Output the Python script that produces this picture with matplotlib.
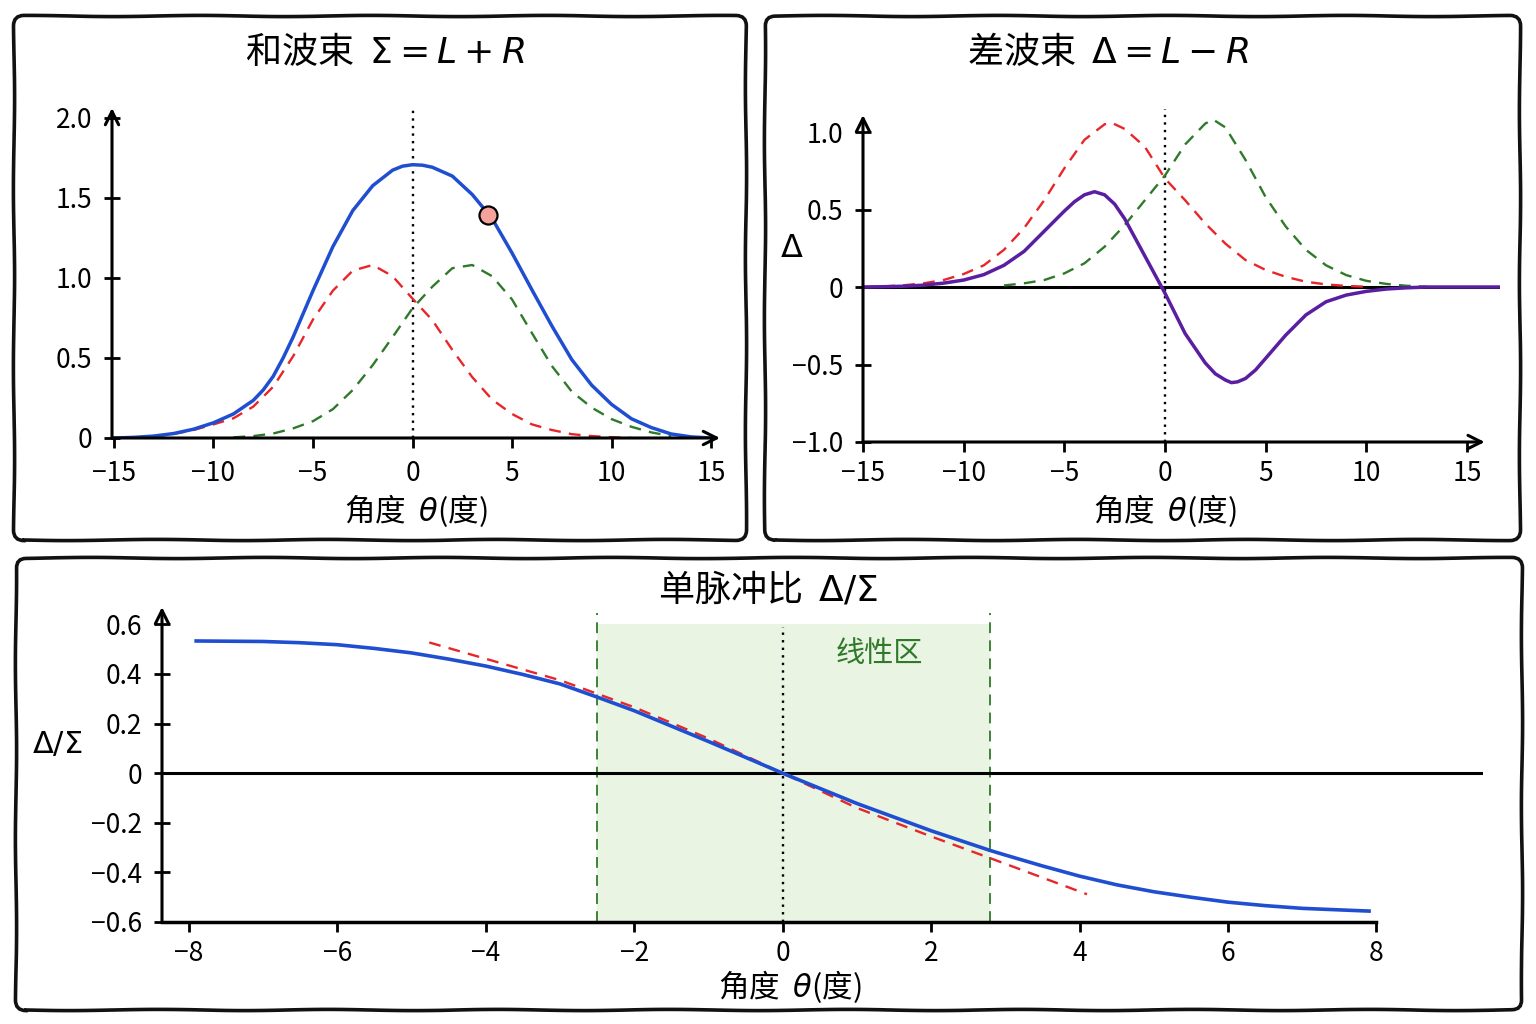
import numpy as np
import matplotlib.pyplot as plt
from matplotlib.patches import FancyBboxPatch

plt.rcParams['font.family'] = ['Noto Sans CJK SC', 'DejaVu Sans']
plt.rcParams['mathtext.fontset'] = 'dejavusans'

# ---- 数据 ----
# 和波束
theta_sum = [-15, -14, -13, -12, -11, -10, -9, -8, -7.5, -7, -6.5, -6, -5.5, -5, -4, -3, -2, -1, -0.5, 0,
             0.5, 1, 2, 3, 4, 5, 6, 7, 8, 9, 10, 11, 12, 13, 14, 15]
sum_beam = [0.0, 0.004, 0.012, 0.028, 0.055, 0.095, 0.15, 0.235, 0.30, 0.385, 0.5, 0.63, 0.775, 0.92, 1.195,
            1.42, 1.575, 1.672, 1.697, 1.706,
            1.703, 1.69, 1.635, 1.52, 1.37, 1.155, 0.925, 0.70, 0.49, 0.33, 0.21, 0.12, 0.065, 0.025, 0.007, 0.0]
theta_L1 = [-13, -12, -11, -10, -9, -8, -7, -6, -5, -4, -3, -2, -1, 0, 1, 2, 3, 4, 5, 6, 7, 8, 9, 10, 11]
L1 = [0.01, 0.025, 0.05, 0.085, 0.123, 0.196, 0.32, 0.51, 0.74, 0.92, 1.045, 1.08, 1.01, 0.87,
      0.735, 0.55, 0.38, 0.24, 0.15, 0.085, 0.05, 0.024, 0.012, 0.005, 0.0]
theta_R1 = [-9, -8, -7, -6, -5, -4, -3, -2, -1, 0, 1, 2, 3, 4, 5, 6, 7, 8, 9, 10, 11, 12, 13]
R1 = [0.004, 0.012, 0.028, 0.06, 0.105, 0.18, 0.30, 0.455, 0.63, 0.81, 0.945, 1.06, 1.08, 1.01,
      0.865, 0.655, 0.45, 0.29, 0.19, 0.118, 0.07, 0.035, 0.012]
dot_theta, dot_val = 3.81, 1.39

# 差波束
theta_diff = [-15, -14, -13, -12, -11, -10, -9, -8, -7, -6, -5, -4.5, -4, -3.5, -3, -2.5, -2, -1, 0,
              1, 2, 2.5, 3, 3.3, 3.6, 4, 4.5, 5, 6, 7, 8, 9, 10, 11, 12, 13, 14, 15, 16, 16.6]
diff_beam = [0.0, 0.002, 0.005, 0.012, 0.025, 0.045, 0.08, 0.14, 0.23, 0.36, 0.49, 0.55, 0.595, 0.615, 0.595,
             0.535, 0.44, 0.2, -0.04,
             -0.30, -0.49, -0.56, -0.6, -0.617, -0.612, -0.59, -0.535, -0.46, -0.31, -0.18, -0.095, -0.052,
             -0.028, -0.013, -0.005, 0.0, 0.0, 0.0, 0.0, 0.0]
theta_L2 = [-15, -14, -13, -12, -11, -10, -9, -8, -7, -6, -5, -4, -3, -2.65, -2, -1, 0,
            1, 2, 3, 4, 5, 6, 7, 8, 9, 10]
L2 = [0.0, 0.004, 0.011, 0.024, 0.045, 0.084, 0.14, 0.24, 0.38, 0.56, 0.766, 0.95, 1.05, 1.06, 1.02, 0.905, 0.70,
      0.56, 0.41, 0.28, 0.174, 0.11, 0.066, 0.034, 0.017, 0.007, 0.002]
theta_R2 = [-8, -7, -6, -5, -4, -3, -2, -1, 0, 1, 2, 2.4, 3, 4, 5, 6, 7, 8, 9, 10, 11, 12, 13]
R2 = [0.01, 0.024, 0.045, 0.088, 0.153, 0.26, 0.40, 0.56, 0.72, 0.92, 1.055, 1.08, 1.03, 0.82,
      0.58, 0.39, 0.24, 0.14, 0.077, 0.04, 0.02, 0.008, 0.002]

# 单脉冲比
theta_ratio = [-7.9, -7, -6.5, -6, -5.5, -5, -4.5, -4, -3.5, -3, -2.5, -2, -1, 0,
               1, 2, 2.8, 3, 3.5, 4, 4.5, 5, 5.5, 6, 6.5, 7, 7.9]
ratio = [0.533, 0.531, 0.526, 0.518, 0.503, 0.485, 0.46, 0.432, 0.398, 0.36, 0.307, 0.252, 0.128, 0.0,
         -0.122, -0.232, -0.312, -0.33, -0.374, -0.415, -0.45, -0.478, -0.5, -0.52, -0.534, -0.545, -0.556]
tangent_theta = [-4.76, -3, -2, -1, 0, 1, 2, 2.8, 4.1]
tangent_val = [0.527, 0.375, 0.266, 0.14, 0.0, -0.14, -0.255, -0.343, -0.488]
linear_zone = [-2.5, 2.8]

BLUE = '#1f4fd0'
RED = '#e8262a'
GREEN = '#2f7a2a'
PURPLE = '#5a1ea0'
SHADE = '#eaf4e2'

W, H = 1536, 1024
fig = plt.figure(figsize=(15.36, 10.24), dpi=100)
fig.patch.set_facecolor('white')


def px_rect(l, t, r, b):
    return [l / W, 1 - b / H, (r - l) / W, (b - t) / H]


def fig_text(x, y, s, **kw):
    fig.text(x / W, 1 - y / H, s, ha='center', va='center', **kw)


def panel_box(l, t, r, b):
    box = FancyBboxPatch((l / 100, (H - b) / 100), (r - l) / 100, (b - t) / 100,
                         boxstyle='round,pad=0,rounding_size=0.1',
                         transform=fig.dpi_scale_trans, fill=False, lw=2.6, ec='#111111')
    box.set_sketch_params(0.6, 180, 1.5)
    fig.add_artist(box)


def arrow(ax, start, end):
    ax.annotate('', xy=end, xytext=start, xycoords='axes fraction',
                arrowprops=dict(arrowstyle='->', lw=2.2, color='black',
                                mutation_scale=24, shrinkA=0, shrinkB=0))


def style_axes(ax):
    for s in ax.spines.values():
        s.set_visible(False)
    ax.tick_params(axis='x', direction='out', length=7, width=2, labelsize=19, pad=6)
    ax.tick_params(axis='y', direction='inout', length=12, width=2, labelsize=19, pad=8)
    ax.patch.set_alpha(0)


def int_labels(vals):
    return [str(v).replace('-', '\u2212') for v in vals]


dash = (5, 3.5)

# ---- 和波束 ----
panel_box(14, 16, 746, 540)
ax1 = fig.add_axes(px_rect(112, 108, 720, 438))
ax1.set_xlim(-15.1, 15.45)
ax1.set_ylim(0, 2.06)
style_axes(ax1)
ax1.plot([0, 0], [0, 2.06], color='black', ls=(0, (1, 2.2)), lw=1.7, zorder=1)
ax1.plot(theta_L1, L1, color=RED, lw=1.7, dashes=dash, zorder=2)
ax1.plot(theta_R1, R1, color=GREEN, lw=1.7, dashes=dash, zorder=2)
ax1.plot(theta_sum, sum_beam, color=BLUE, lw=2.5, zorder=3)
ax1.plot(dot_theta, dot_val, 'o', ms=13, mfc='#f3a39c', mec='black', mew=1.6, zorder=5)
arrow(ax1, (0, 0), (1, 0))
arrow(ax1, (0, 0), (0, 1))
xt = [-15, -10, -5, 0, 5, 10, 15]
ax1.set_xticks(xt, int_labels(xt))
ax1.tick_params(axis='x', pad=9)
yt1 = [0, 0.5, 1.0, 1.5, 2.0]
ax1.set_yticks(yt1, ['0', '0.5', '1.0', '1.5', '2.0'])
fig_text(385, 52, '和波束  $\\Sigma = L + R$', fontsize=26)
fig_text(416, 511, '角度  $\\theta$(度)', fontsize=22)

# ---- 差波束 ----
panel_box(765, 16, 1520, 540)
ax2 = fig.add_axes(px_rect(863, 115, 1500, 442))
ax2.set_xlim(-15, 16.64)
ax2.set_ylim(-1.0, 1.11)
style_axes(ax2)
ax2.axhline(0, color='black', lw=2.2, zorder=1)
ax2.plot([0, 0], [-1.0, 1.15], color='black', ls=(0, (1, 2.2)), lw=1.7, zorder=1, clip_on=False)
ax2.plot(theta_L2, L2, color=RED, lw=1.7, dashes=dash, zorder=2)
ax2.plot(theta_R2, R2, color=GREEN, lw=1.7, dashes=dash, zorder=2)
ax2.plot(theta_diff, diff_beam, color=PURPLE, lw=2.5, zorder=3)
arrow(ax2, (0, 0), (0.976, 0))
arrow(ax2, (0, 0), (0, 1))
ax2.set_xticks(xt, int_labels(xt))
yt2 = [-1.0, -0.5, 0, 0.5, 1.0]
ax2.set_yticks(yt2, ['\u22121.0', '\u22120.5', '0', '0.5', '1.0'])
fig_text(1108, 52, '差波束  $\\Delta = L - R$', fontsize=26)
fig_text(1165, 511, '角度  $\\theta$(度)', fontsize=22)
fig_text(792, 248, '$\\Delta$', fontsize=23)

# ---- 单脉冲比 ----
panel_box(16, 558, 1522, 1010)
ax3 = fig.add_axes(px_rect(162, 607, 1483, 922))
ax3.set_xlim(-8.36, 9.435)
ax3.set_ylim(-0.6, 0.67)
style_axes(ax3)
ax3.fill_between(linear_zone, -0.6, 0.6, color=SHADE, lw=0, zorder=0)
for xv in linear_zone:
    ax3.plot([xv, xv], [-0.6, 0.645], color=GREEN, lw=1.3, dashes=(6, 4), zorder=1, clip_on=False)
ax3.plot([0, 0], [-0.6, 0.59], color='black', ls=(0, (1, 2.2)), lw=1.7, zorder=1)
ax3.axhline(0, color='black', lw=2.2, zorder=1)
ax3.plot(tangent_theta, tangent_val, color=RED, lw=1.7, dashes=dash, zorder=2)
ax3.plot(theta_ratio, ratio, color=BLUE, lw=2.6, zorder=3)
ax3.plot([-8.36, 8], [-0.6, -0.6], color='black', lw=2.5, clip_on=False, zorder=4)
arrow(ax3, (0, 0), (0, 1))
xt3 = [-8, -6, -4, -2, 0, 2, 4, 6, 8]
ax3.set_xticks(xt3, int_labels(xt3))
yt3 = [-0.6, -0.4, -0.2, 0, 0.2, 0.4, 0.6]
ax3.set_yticks(yt3, ['\u22120.6', '\u22120.4', '\u22120.2', '0', '0.2', '0.4', '0.6'])
ax3.text(1.3, 0.48, '线性区', color=GREEN, fontsize=21, ha='center', va='center')
fig_text(768, 590, '单脉冲比  $\\Delta/\\Sigma$', fontsize=26)
fig_text(790, 987, '角度  $\\theta$(度)', fontsize=22)
fig_text(57, 745, '$\\Delta/\\Sigma$', fontsize=22)

fig.savefig('out.png', dpi=100, facecolor='white')
